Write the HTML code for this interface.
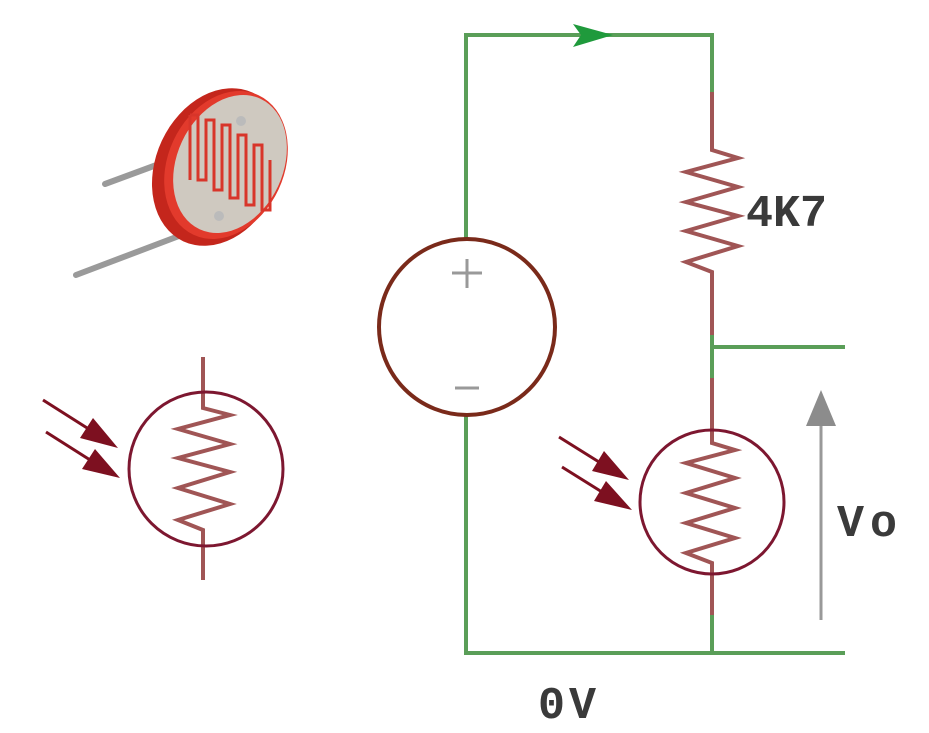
<!DOCTYPE html>
<html><head><meta charset="utf-8"><style>
html,body{margin:0;padding:0;background:#fff}
svg{display:block}
text{font-family:"Liberation Mono",monospace;font-weight:bold;fill:#3a3a3a}
</style></head><body>
<svg width="929" height="733" viewBox="0 0 929 733" xmlns="http://www.w3.org/2000/svg">
<!-- photo-ish LDR -->
<g>
<line x1="105" y1="184" x2="170" y2="160" stroke="#9a9a9a" stroke-width="6" stroke-linecap="round"/>
<line x1="76" y1="275" x2="200" y2="228" stroke="#9a9a9a" stroke-width="6" stroke-linecap="round"/>
<ellipse cx="218" cy="167" rx="62" ry="82" transform="rotate(25 218 167)" fill="#c4261c"/>
<ellipse cx="226" cy="165" rx="58" ry="77" transform="rotate(25 226 165)" fill="#e23a2c"/>
<ellipse cx="230" cy="164" rx="53" ry="72" transform="rotate(25 230 164)" fill="#cfc9c0"/>
<path d="M190 115 L190 180 M190 115 L198 115 L198 180 L206 180 L206 120 L214 120 L214 190 L222 190 L222 125 L230 125 L230 198 L238 198 L238 135 L246 135 L246 205 L254 205 L254 145 L262 145 L262 210 L270 210 L270 160" fill="none" stroke="#d8352a" stroke-width="3"/>
<circle cx="241" cy="121" r="5" fill="#bbb"/>
<circle cx="219" cy="216" r="5" fill="#bbb"/>
</g>
<!-- green wires -->
<g stroke="#5a9e58" stroke-width="4" fill="none">
<polyline points="466,240 466,35 712,35 712,92"/>
<line x1="466" y1="414" x2="466" y2="653"/>
<line x1="464" y1="653" x2="845" y2="653"/>
<line x1="712" y1="335" x2="712" y2="378"/>
<line x1="712" y1="347" x2="845" y2="347"/>
<line x1="712" y1="615" x2="712" y2="653"/>
</g>
<polygon points="573,24 613,35 573,47 581,35" fill="#1f9a3c"/>
<!-- battery -->
<circle cx="467" cy="327" r="88" fill="none" stroke="#7a2a1a" stroke-width="4"/>
<g stroke="#999" stroke-width="3">
<line x1="452" y1="273" x2="482" y2="273"/><line x1="467" y1="259" x2="467" y2="288"/>
<line x1="455" y1="388" x2="479" y2="388"/>
</g>
<!-- resistors -->
<g stroke="#a05555" stroke-width="4" fill="none" stroke-linejoin="miter">
<polyline points="712,92 712,150 738,158 686,172 738,187 686,202 738,216 686,231 738,246 686,262 712,272 712,335"/>
<polyline points="712,378 712,443 735,450 686,463 735,478 686,493 735,508 686,523 735,538 686,553 712,563 712,615"/>
<polyline points="203,357 203,408 230,415 178,429 230,444 178,458 230,472 178,488 230,504 178,520 203,530 203,580"/>
</g>
<!-- LDR circles -->
<circle cx="712" cy="502" r="72" fill="none" stroke="#7d1730" stroke-width="3"/>
<circle cx="206" cy="469" r="77" fill="none" stroke="#7d1730" stroke-width="3"/>
<!-- light arrows -->
<g stroke="#7d1020" stroke-width="3">
<line x1="43" y1="400" x2="95" y2="433"/><line x1="46" y1="432" x2="98" y2="465"/>
<line x1="559" y1="437" x2="607" y2="467"/><line x1="562" y1="467" x2="610" y2="497"/>
</g>
<g fill="#7d1020">
<polygon points="118,448 80,438 93,418"/>
<polygon points="120,478 82,469 95,449"/>
<polygon points="629,480 592,471 604,451"/>
<polygon points="632,510 594,501 606,481"/>
</g>
<!-- Vo arrow -->
<line x1="821" y1="620" x2="821" y2="420" stroke="#999" stroke-width="3"/>
<polygon points="821,390 836,426 806,426" fill="#8c8c8c"/>
<text x="746" y="226" font-size="45">4K7</text>
<text x="837" y="536" font-size="45" letter-spacing="6">Vo</text>
<text x="538" y="718" font-size="45" letter-spacing="4">0V</text>
</svg>
</body></html>
